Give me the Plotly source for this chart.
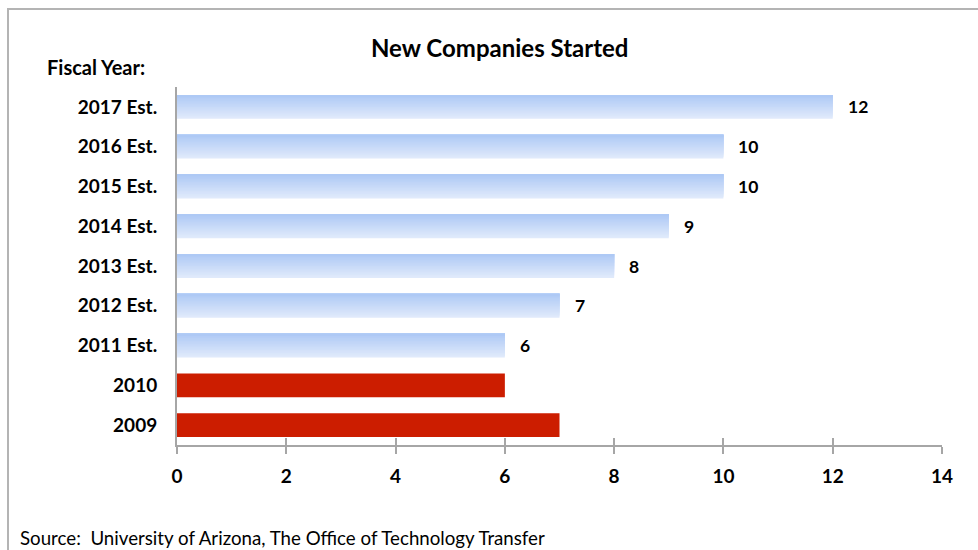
import plotly.graph_objects as go

categories = ["2009", "2010", "2011 Est.", "2012 Est.", "2013 Est.", "2014 Est.",
              "2015 Est.", "2016 Est.", "2017 Est."]
values = [7, 6, 6, 7, 8, 9, 10, 10, 12]
actual_years = ["2009", "2010"]
x_ticks = [0, 2, 4, 6, 8, 10, 12, 14]

FONT = "Lato"
W, H = 978, 550
L, R, T, B = 177, 36, 87, 105
PW, PH = W - L - R, H - T - B

def px_x(p):
    return (p - L) / PW

def px_y(p):
    return (H - B - p) / PH

act_cat = [c for c in categories if c in actual_years]
act_val = [v for c, v in zip(categories, values) if c in actual_years]
est_cat = [c for c in categories if c not in actual_years]
est_val = [v for c, v in zip(categories, values) if c not in actual_years]

fig = go.Figure()

# gradient for estimate bars: stacked overlapping layers, light at bottom, darker at top
N = 16
bw = 0.6
dark_c = (174, 201, 245)
light_c = (224, 234, 251)
for i in range(N):
    t = i / (N - 1)
    c = tuple(round(light_c[k] + (dark_c[k] - light_c[k]) * t) for k in range(3))
    fig.add_trace(go.Bar(
        y=est_cat, x=est_val, orientation="h",
        width=bw - i * bw / N, offset=-bw / 2 + i * bw / N,
        marker=dict(color="rgb(%d,%d,%d)" % c, line=dict(width=0)),
        showlegend=False, hoverinfo="skip"))

fig.add_trace(go.Bar(
    y=act_cat, x=act_val, orientation="h", width=bw,
    marker=dict(color="#cc1d00", line=dict(width=0)),
    showlegend=False))

for c, v in zip(categories, values):
    fig.add_annotation(x=v, y=c, text=str(v), showarrow=False, xanchor="left",
                       xshift=13, font=dict(family=FONT, size=17.5, color="#000000",
                                            weight="bold"))

# inside halves of the crossing ticks
fig.add_trace(go.Scatter(x=[None], y=[None], xaxis="x2", showlegend=False))

fig.update_layout(
    width=W, height=H,
    margin=dict(l=L, r=R, t=T, b=B, autoexpand=False),
    paper_bgcolor="white", plot_bgcolor="white",
    barmode="overlay",
    font=dict(family=FONT, color="#000000"),
    xaxis=dict(range=[0, 14], tickvals=x_ticks, ticktext=[str(v) for v in x_ticks],
               showgrid=False, zeroline=False, showline=True, linecolor="#a6a6a6",
               linewidth=2, ticks="outside", ticklen=7, tickwidth=2, tickcolor="#a6a6a6",
               tickfont=dict(family=FONT, size=19, color="#000000", weight="bold"),
               ticklabelstandoff=6),
    xaxis2=dict(range=[0, 14], tickvals=x_ticks, overlaying="x", side="bottom",
                showgrid=False, zeroline=False, showline=False, showticklabels=False,
                ticks="inside", ticklen=7, tickwidth=2, tickcolor="#a6a6a6"),
    yaxis=dict(type="category", categoryorder="array", categoryarray=categories,
               range=[-0.5, len(categories) - 0.5], showgrid=False, zeroline=False,
               showline=True, linecolor="#a6a6a6", linewidth=2, ticks="",
               tickfont=dict(family=FONT, size=19, color="#000000", weight="bold"),
               ticklabelstandoff=14),
    shapes=[dict(type="rect", xref="paper", yref="paper",
                 x0=px_x(8), x1=px_x(995), y0=px_y(570), y1=px_y(9),
                 line=dict(color="#b4b4b4", width=2), fillcolor="rgba(0,0,0,0)",
                 layer="below")],
    annotations=list(fig.layout.annotations) + [
        dict(text="New Companies Started", xref="paper", yref="paper",
             x=px_x(500), y=px_y(48), showarrow=False, xanchor="center", yanchor="middle",
             font=dict(family=FONT, size=24, color="#000000", weight="bold")),
        dict(text="Fiscal Year:", xref="paper", yref="paper",
             x=px_x(45), y=px_y(67), showarrow=False, xanchor="left", yanchor="middle",
             font=dict(family=FONT, size=20, color="#000000", weight="bold")),
        dict(text="Source:  University of Arizona, The Office of Technology Transfer",
             xref="paper", yref="paper",
             x=px_x(18), y=px_y(538), showarrow=False, xanchor="left", yanchor="middle",
             font=dict(family=FONT, size=18.7, color="#000000")),
    ],
)

fig.write_html("out.html", config={"displayModeBar": False},
               post_script="document.body.style.margin='0';"
                           "document.body.style.overflow='hidden';")
